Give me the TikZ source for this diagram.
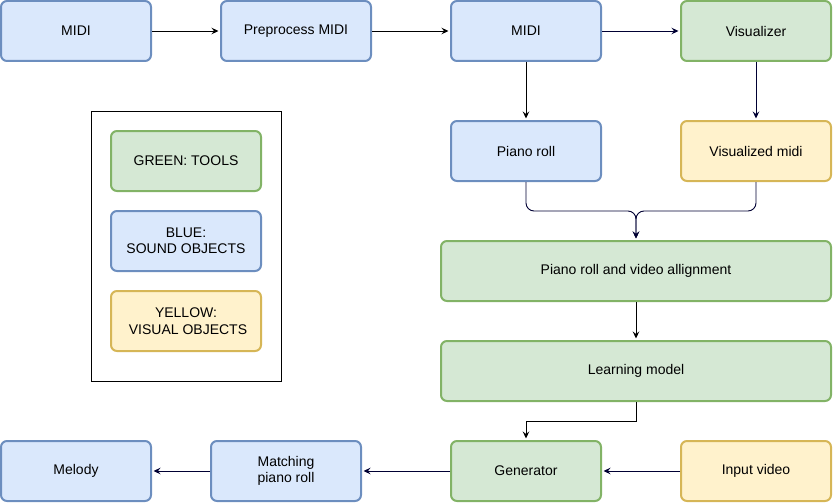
\documentclass[tikz,border=0pt]{standalone}
\usepackage{fontspec}
\setmainfont{Liberation Sans}
\usetikzlibrary{arrows.meta,calc}
\definecolor{bfill}{HTML}{DAE8FC}\definecolor{bdraw}{HTML}{6C8EBF}
\definecolor{gfill}{HTML}{D5E8D4}\definecolor{gdraw}{HTML}{82B366}
\definecolor{yfill}{HTML}{FFF2CC}\definecolor{ydraw}{HTML}{D6B656}
\definecolor{navy}{HTML}{000033}
\begin{document}
\begin{tikzpicture}[x=1pt,y=-1pt,
  box/.style={rectangle,rounded corners=6pt,line width=2pt,minimum width=150pt,minimum height=60pt,inner sep=0pt,align=center,font=\fontsize{14}{16.5}\selectfont},
  bluebox/.style={box,fill=bfill,draw=bdraw},
  greenbox/.style={box,fill=gfill,draw=gdraw},
  yellowbox/.style={box,fill=yfill,draw=ydraw},
  conn/.style={line width=0.9pt,-{Stealth[length=7pt,width=6.5pt,inset=2.5pt]},shorten >=1.5pt},
  blackconn/.style={conn,draw=black},
  navyconn/.style={conn,draw=navy}]
\useasboundingbox (0,0) rectangle (833,503);
\node[bluebox] (midiA) at (76,31) {MIDI};
\node[bluebox] (prep) at (296,31) {Preprocess MIDI};
\node[bluebox] (midiB) at (526,31) {MIDI};
\node[greenbox] (vis) at (756,31) {Visualizer};
\node[bluebox] (proll) at (526,151) {Piano roll};
\node[yellowbox] (vmidi) at (756,151) {Visualized midi};
\node[greenbox,minimum width=390pt] (align) at (636,271) {Piano roll and video allignment};
\node[greenbox,minimum width=390pt] (learn) at (636,371) {Learning model};
\node[greenbox] (gen) at (526,471) {Generator};
\node[yellowbox] (input) at (756,471) {Input video};
\node[bluebox] (match) at (286,471) {Matching\\piano roll};
\node[bluebox] (melody) at (76,471) {Melody};
\node[draw=black,line width=1pt,fill=white,minimum width=190pt,minimum height=270pt,inner sep=0pt] (legend) at (186,246) {};
\node[greenbox] (lg) at (186,161) {GREEN: TOOLS};
\node[bluebox] (lb) at (186,241) {BLUE:\\SOUND OBJECTS};
\node[yellowbox] (ly) at (186,321) {YELLOW:\\\hspace*{4pt}VISUAL OBJECTS};
\coordinate (merge) at (636,211);
\coordinate (bend) at (636,421);
\draw[blackconn] (midiA) -- (prep);
\draw[blackconn] (prep) -- (midiB);
\draw[navyconn] (midiB) -- (vis);
\draw[blackconn] (midiB) -- (proll);
\draw[navyconn] (vis) -- (vmidi);
\draw[navyconn,rounded corners=8pt] (proll.south) |- (merge) -- (align.north);
\draw[navyconn,rounded corners=8pt] (vmidi.south) |- (merge) -- (align.north);
\draw[blackconn] (align) -- (learn);
\draw[blackconn] (learn.south) -- (bend) -| (gen.north);
\draw[navyconn] (input) -- (gen);
\draw[navyconn] (gen) -- (match);
\draw[navyconn] (match) -- (melody);
\end{tikzpicture}
\end{document}
